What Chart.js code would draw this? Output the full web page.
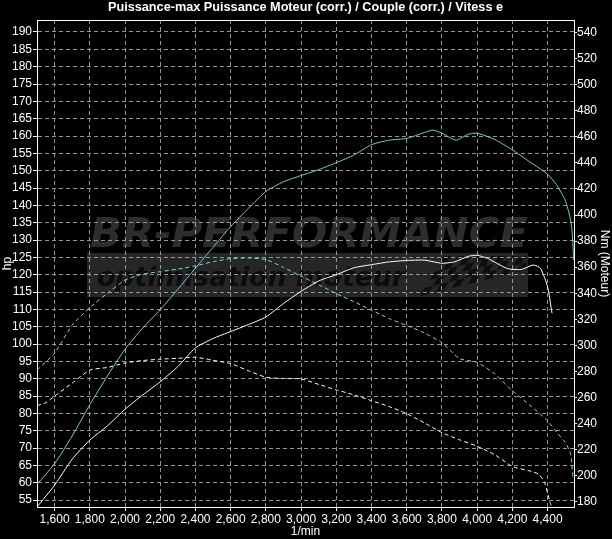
<!DOCTYPE html>
<html>
<head>
    <title>Puissance / Couple</title>
    <script src="https://cdn.jsdelivr.net/npm/chart.js"></script>
    <style>
        html, body { margin: 0; padding: 0; background: #000; }
        #wrap { width: 612px; height: 539px; }
    </style>
</head>
<body>
    <div id="wrap"><canvas id="myChart"></canvas></div>
    <script>
        // chart texts
        var chartTitle = 'Puissance-max Puissance Moteur (corr.) / Couple (corr.) / Vitess e';
        var xTitle = '1/min';
        var leftTitle = 'hp';
        var rightTitle = 'Nm (Moteur)';

        // axis ranges
        var rpmRange = [1500, 4550];
        var hpRange = [53, 193.46];
        var nmRange = [175.9, 549.7];

        // tick labels
        var rpmTicks = [1600, 1800, 2000, 2200, 2400, 2600, 2800, 3000, 3200, 3400, 3600, 3800, 4000, 4200, 4400];
        var hpTicks = [55, 60, 65, 70, 75, 80, 85, 90, 95, 100, 105, 110, 115, 120, 125, 130, 135, 140, 145, 150, 155, 160, 165, 170, 175, 180, 185, 190];
        var nmTicks = [180, 200, 220, 240, 260, 280, 300, 320, 340, 360, 380, 400, 420, 440, 460, 480, 500, 520, 540];

        // Puissance Moteur (corr.) - hp, cyan solid
        var powerCorrRpm = [1500, 1600, 1700, 1800, 1900, 2000, 2100, 2200, 2300, 2400, 2500, 2600, 2700, 2800, 2900, 3000, 3100, 3200, 3300, 3400, 3500, 3600, 3700, 3750, 3800, 3880, 3950, 4000, 4100, 4200, 4300, 4400, 4450, 4500, 4530, 4540, 4548];
        var powerCorrHp = [59.5, 65.5, 73.5, 82.5, 90.8, 98.5, 104.6, 109.9, 115.8, 121.9, 127.9, 133.9, 139.1, 144, 146.8, 148.6, 150.3, 152.3, 154.5, 157.5, 158.8, 159.3, 161, 161.7, 160.8, 158.8, 160.5, 160.8, 159, 156, 152.5, 149, 146, 141.5, 136, 132, 124.2];

        // Puissance-max - hp, white solid
        var powerRpm = [1500, 1600, 1700, 1800, 1900, 2000, 2100, 2200, 2300, 2400, 2500, 2600, 2700, 2800, 2900, 3000, 3100, 3200, 3300, 3400, 3500, 3600, 3700, 3800, 3870, 3950, 4000, 4060, 4170, 4250, 4320, 4360, 4400, 4425];
        var powerHp = [53, 59.3, 66.8, 72.3, 76.4, 81.2, 85.3, 89.1, 93.5, 98.9, 101.6, 103.6, 105.6, 107.8, 111.7, 115.2, 118.2, 120, 122, 122.9, 123.7, 124.1, 124.2, 123.3, 123.7, 125.3, 125.6, 124.7, 121.8, 121.5, 122.8, 121.8, 116.5, 108.9];

        // Couple (corr.) - Nm, cyan dashed
        var torqueCorrRpm = [1500, 1600, 1700, 1800, 1900, 2000, 2100, 2200, 2300, 2400, 2500, 2600, 2700, 2800, 2900, 3000, 3100, 3200, 3300, 3400, 3500, 3600, 3700, 3800, 3900, 4000, 4100, 4200, 4300, 4400, 4450, 4500, 4530, 4545];
        var torqueCorrNm = [281, 294, 315.5, 329, 340, 350, 354.7, 356.5, 358.5, 361, 364.2, 366.5, 367, 365.8, 359.8, 353, 346.5, 339.7, 333.5, 327, 320.5, 315.2, 309.5, 302, 289.8, 286.9, 278, 265, 254, 242, 233.5, 225.5, 217, 197.4];

        // Couple - Nm, white dashed
        var torqueRpm = [1500, 1550, 1600, 1700, 1800, 1900, 2000, 2100, 2200, 2300, 2400, 2500, 2600, 2700, 2800, 2900, 3000, 3100, 3200, 3300, 3400, 3500, 3600, 3700, 3800, 3900, 4000, 4100, 4200, 4300, 4350, 4383, 4411, 4420];
        var torqueNm = [253.7, 256, 261, 271, 281, 283, 286.5, 288.3, 289.4, 290, 290.8, 288.5, 286, 280.5, 275.5, 274.5, 274.2, 270, 265.8, 262, 257.5, 253, 247.5, 240.5, 233, 227.5, 222.5, 216, 207, 203.5, 201, 194.8, 180.8, 177];

        function pts(xs, ys) {
            return xs.map(function (x, i) { return { x: x, y: ys[i] }; });
        }

        function useTicks(values) {
            return function (scale) {
                scale.ticks = values.map(function (v) { return { value: v }; });
            };
        }

        var tickFont = { family: "'Liberation Sans', Arial, sans-serif", size: 12 };
        var gridGray = '#959595';

        // background, watermark, title, top frame line
        var decoPlugin = {
            id: 'deco',
            beforeDraw: function (chart) {
                var ctx = chart.ctx;
                ctx.save();
                ctx.fillStyle = '#000';
                ctx.fillRect(0, 0, chart.width, chart.height);

                // watermark
                ctx.fillStyle = '#2d2d2d';
                ctx.font = 'italic bold 40px "DejaVu Sans", sans-serif';
                ctx.textBaseline = 'alphabetic';
                var w = ctx.measureText('BR-PERFORMANCE').width;
                ctx.save();
                ctx.translate(90, 247);
                ctx.scale(438 / w, 1);
                ctx.fillText('BR-PERFORMANCE', 0, 0);
                ctx.restore();

                ctx.fillStyle = '#262626';
                ctx.fillRect(87, 253, 441, 44);

                ctx.fillStyle = '#0c0c0c';
                ctx.font = 'italic bold 26px "DejaVu Sans", sans-serif';
                w = ctx.measureText('optimisation moteur').width;
                ctx.save();
                ctx.translate(97, 286);
                ctx.scale(308 / w, 1);
                ctx.fillText('optimisation moteur', 0, 0);
                ctx.restore();

                // checkered flag
                ctx.save();
                ctx.beginPath();
                ctx.rect(415, 256, 112, 40);
                ctx.clip();
                ctx.translate(420, 296);
                ctx.transform(1, -0.25, -0.6, 1, 0, 0);
                ctx.fillStyle = '#0e0e0e';
                for (var r = 0; r < 6; r++) {
                    for (var c = 0; c < 16; c++) {
                        if ((r + c) % 2 === 0) ctx.fillRect(c * 8, -r * 8 - 8, 8, 8);
                    }
                }
                ctx.restore();

                ctx.restore();
            },
            afterDraw: function (chart) {
                var ctx = chart.ctx;
                var a = chart.chartArea;
                ctx.save();
                ctx.strokeStyle = '#ffffff';
                ctx.lineWidth = 1;
                ctx.beginPath();
                ctx.moveTo(a.left, Math.round(a.top) + 0.5);
                ctx.lineTo(a.right, Math.round(a.top) + 0.5);
                ctx.stroke();

                ctx.fillStyle = '#ffffff';
                ctx.font = 'bold 12px "Liberation Sans", Arial, sans-serif';
                ctx.textBaseline = 'middle';
                var w = ctx.measureText(chartTitle).width;
                ctx.translate(108, 8);
                ctx.scale(395 / w, 1);
                ctx.fillText(chartTitle, 0, 0);
                ctx.restore();
            }
        };

        var ctx = document.getElementById('myChart').getContext('2d');
        var myChart = new Chart(ctx, {
            type: 'line',
            data: {
                datasets: [{
                    label: 'Puissance Moteur (corr.)',
                    data: pts(powerCorrRpm, powerCorrHp),
                    borderColor: '#6fd0d0',
                    yAxisID: 'y'
                }, {
                    label: 'Puissance-max',
                    data: pts(powerRpm, powerHp),
                    borderColor: '#ffffff',
                    yAxisID: 'y'
                }, {
                    label: 'Couple (corr.)',
                    data: pts(torqueCorrRpm, torqueCorrNm),
                    borderColor: '#7adada',
                    borderDash: [4, 3],
                    yAxisID: 'y2'
                }, {
                    label: 'Couple',
                    data: pts(torqueRpm, torqueNm),
                    borderColor: '#ffffff',
                    borderDash: [4, 3],
                    yAxisID: 'y2'
                }]
            },
            options: {
                responsive: true,
                maintainAspectRatio: false,
                animation: false,
                layout: { padding: { top: 20, left: 0, right: 0, bottom: 0 } },
                elements: {
                    point: { radius: 0 },
                    line: { borderWidth: 1, tension: 0.2, fill: false }
                },
                plugins: {
                    legend: { display: false },
                    title: { display: false },
                    tooltip: { enabled: false }
                },
                scales: {
                    x: {
                        type: 'linear',
                        min: rpmRange[0],
                        max: rpmRange[1],
                        afterBuildTicks: useTicks(rpmTicks),
                        afterFit: function (s) { s.height = 32; },
                        ticks: {
                            color: '#ffffff',
                            font: tickFont,
                            padding: 1,
                            maxRotation: 0,
                            autoSkip: false,
                            callback: function (v) { return v.toLocaleString('en-US'); }
                        },
                        grid: { color: gridGray, tickColor: '#ffffff', tickLength: 4 },
                        border: { color: '#ffffff', dash: [4, 3] },
                        title: { display: true, text: xTitle, color: '#ffffff', font: tickFont, padding: 0 }
                    },
                    y: {
                        position: 'left',
                        min: hpRange[0],
                        max: hpRange[1],
                        afterBuildTicks: useTicks(hpTicks),
                        afterFit: function (s) { s.width = 37; },
                        ticks: { color: '#ffffff', font: tickFont, padding: 1, autoSkip: false },
                        grid: { color: gridGray, tickColor: '#ffffff', tickLength: 4 },
                        border: { color: '#ffffff', dash: [4, 3] },
                        title: { display: true, text: leftTitle, color: '#ffffff', font: tickFont, padding: 0 }
                    },
                    y2: {
                        position: 'right',
                        min: nmRange[0],
                        max: nmRange[1],
                        afterBuildTicks: useTicks(nmTicks),
                        afterFit: function (s) { s.width = 38; },
                        ticks: { color: '#ffffff', font: tickFont, padding: 0, autoSkip: false },
                        grid: { drawOnChartArea: false, tickColor: '#ffffff', tickLength: 3 },
                        border: { color: '#ffffff' },
                        title: { display: true, text: rightTitle, color: '#ffffff', font: tickFont, padding: 0 }
                    }
                }
            },
            plugins: [decoPlugin]
        });
    </script>
</body>
</html>
